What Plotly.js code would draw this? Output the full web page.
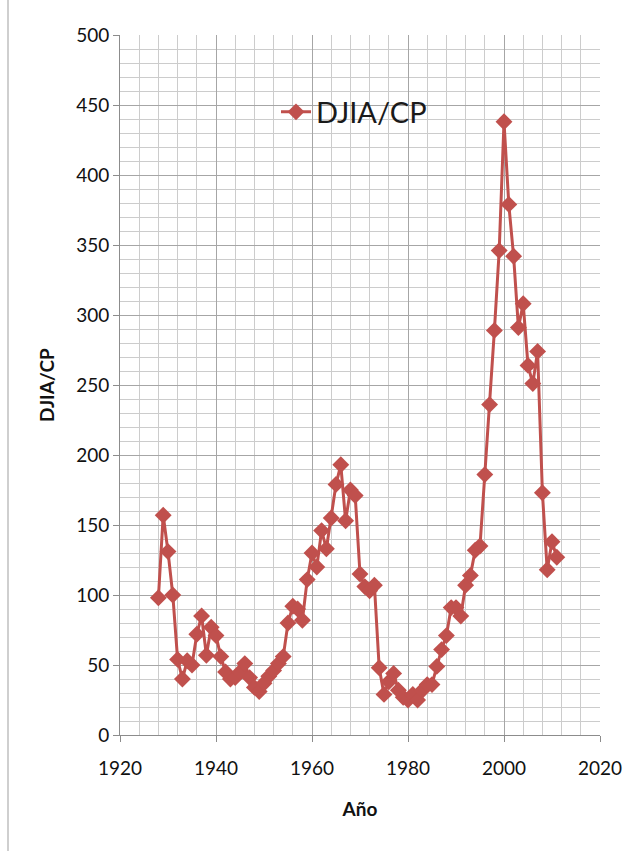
<!DOCTYPE html>
<html>
<head>
<meta charset="utf-8">
<script src="https://cdn.plot.ly/plotly-3.0.1.min.js"></script>
<style>
html,body{margin:0;padding:0;background:#fff;}
#chart{width:634px;height:851px;}
</style>
</head>
<body>
<div id="chart"></div>
<script>
const years = [
  1928,1929,1930,1931,1932,1933,1934,1935,1936,1937,1938,1939,
  1940,1941,1942,1943,1944,1945,1946,1947,1948,1949,
  1950,1951,1952,1953,1954,1955,1956,1957,1958,1959,
  1960,1961,1962,1963,1964,1965,1966,1967,1968,1969,
  1970,1971,1972,1973,1974,1975,1976,1977,1978,1979,
  1980,1981,1982,1983,1984,1985,1986,1987,1988,1989,
  1990,1991,1992,1993,1994,1995,1996,1997,1998,1999,
  2000,2001,2002,2003,2004,2005,2006,2007,2008,2009,2010,2011
];
const djiaCp = [
  98,157,131,100,54,40,53,50,72,85,57,77,
  71,56,45,40,41,45,51,41,34,31,
  37,42,46,51,56,80,92,90,82,111,
  130,120,146,133,155,179,193,153,175,171,
  115,106,103,107,48,29,38,44,32,27,
  25,29,25,32,36,36,49,61,71,91,
  91,85,107,114,132,135,186,236,289,346,
  438,379,342,291,308,264,251,274,173,118,138,127
];
const seriesName = 'DJIA/CP';
const xTickVals = [1920,1940,1960,1980,2000,2020];
const yTickVals = [0,50,100,150,200,250,300,350,400,450,500];

const red = '#C0504D';
const fontFam = 'Lato, "Open Sans", "Liberation Sans", sans-serif';

const trace = {
  x: years, y: djiaCp, name: seriesName,
  type: 'scatter', mode: 'lines+markers',
  line: {color: red, width: 3},
  marker: {symbol: 'diamond', size: 13, color: red},
  showlegend: true
};

const layout = {
  width: 634, height: 851,
  margin: {l: 120, r: 34, t: 35, b: 116},
  paper_bgcolor: '#fff', plot_bgcolor: '#fff',
  font: {family: fontFam, color: '#1a1a1a'},
  showlegend: true,
  legend: {
    x: 0.325, y: 0.89, xanchor: 'left', yanchor: 'middle',
    bgcolor: 'rgba(0,0,0,0)', borderwidth: 0,
    font: {family: fontFam, size: 29, color: '#1a1a1a'}
  },
  xaxis: {
    range: [1920, 2020], tickvals: xTickVals, ticktext: xTickVals.map(String),
    showgrid: true, gridcolor: '#a6a6a6', gridwidth: 1,
    minor: {dtick: 4, tick0: 1920, showgrid: true, gridcolor: '#cccccc', gridwidth: 1, ticks: ''},
    showline: true, linecolor: '#8c8c8c', linewidth: 1,
    ticks: 'outside', ticklen: 6, tickcolor: '#8c8c8c',
    ticklabelstandoff: 10,
    tickfont: {family: fontFam, size: 19, color: '#111'},
    zeroline: false, mirror: false,
    title: {text: '<b>Año</b>', font: {family: fontFam, size: 19, color: '#111'}, standoff: 24}
  },
  yaxis: {
    range: [0, 500], tickvals: yTickVals,
    showgrid: true, gridcolor: '#a6a6a6', gridwidth: 1,
    minor: {dtick: 10, tick0: 0, showgrid: true, gridcolor: '#cccccc', gridwidth: 1, ticks: ''},
    showline: true, linecolor: '#8c8c8c', linewidth: 1,
    ticks: 'outside', ticklen: 6, tickcolor: '#8c8c8c',
    tickfont: {family: fontFam, size: 19, color: '#111'},
    zeroline: false,
    title: {text: '<b>DJIA/CP</b>', font: {family: fontFam, size: 19, color: '#111'}, standoff: 16}
  },
  shapes: [
    {type: 'line', xref: 'paper', yref: 'paper', x0: -0.2333, x1: -0.2333, y0: -0.166, y1: 1.05,
     line: {color: '#cfcfcf', width: 2}}
  ]
};

Plotly.newPlot('chart', [trace], layout, {displayModeBar: false, staticPlot: true});
</script>
</body>
</html>
